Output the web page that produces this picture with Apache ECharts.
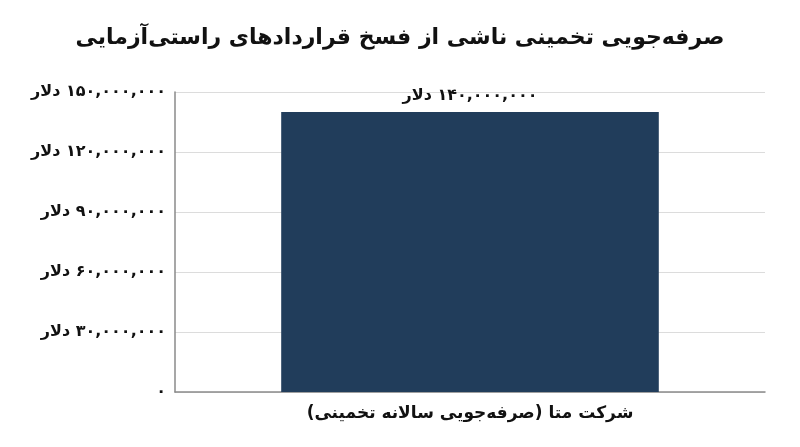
<!DOCTYPE html>
<html>
<head>
<meta charset="utf-8">
<script src="https://cdn.jsdelivr.net/npm/echarts@6/dist/echarts.min.js"></script>
<style>
html,body{margin:0;padding:0;background:#fff;}
#chart{width:800px;height:447px;}
</style>
</head>
<body>
<div id="chart"></div>
<script>
var titleText = 'صرفه‌جویی تخمینی ناشی از فسخ قراردادهای راستی‌آزمایی';
var categories = ['شرکت متا (صرفه‌جویی سالانه تخمینی)'];
var savings = [140000000];
var unit = 'دلار';
var yMax = 150000000;
var yStep = 30000000;

var FONT = '"DejaVu Sans", sans-serif';
var RLM = '\u200F';
function fa(n) {
  return n.toLocaleString('en-US').replace(/\d/g, function (d) { return '۰۱۲۳۴۵۶۷۸۹'[d]; });
}
// word on the left, number on the right (as in right-to-left reading)
function money(n) {
  return n === 0 ? '{n|' + fa(0) + '}' : '{u|' + unit + '}{s| }{n|' + fa(n) + '}';
}
var txt = { fontFamily: FONT, fontWeight: 'bold', color: '#111' };
function rich(size) {
  return {
    u: Object.assign({ fontSize: size }, txt),
    s: Object.assign({ fontSize: size }, txt),
    n: Object.assign({ fontSize: size }, txt)
  };
}

var chart = echarts.init(document.getElementById('chart'), null, { renderer: 'canvas' });
chart.setOption({
  backgroundColor: '#ffffff',
  animation: false,
  title: {
    text: titleText,
    left: 'center',
    top: 22,
    textStyle: { fontFamily: FONT, fontWeight: 'bold', fontSize: 22, color: '#111' }
  },
  grid: { left: 175, right: 35, top: 92, bottom: 55, containLabel: false },
  xAxis: {
    type: 'category',
    data: categories,
    axisLine: { show: true, lineStyle: { color: '#8a8a8a', width: 1.5 } },
    axisTick: { show: false },
    axisLabel: {
      margin: 13,
      fontFamily: FONT, fontWeight: 'bold', fontSize: 17, color: '#111',
      formatter: function (v) { return RLM + v + RLM; }
    }
  },
  yAxis: {
    type: 'value',
    min: 0,
    max: yMax,
    interval: yStep,
    axisLine: { show: true, lineStyle: { color: '#8a8a8a', width: 1.5 } },
    axisTick: { show: false },
    splitLine: { lineStyle: { color: '#dcdcdc', width: 1 } },
    axisLabel: {
      margin: 9,
      fontFamily: FONT, fontWeight: 'bold', fontSize: 16, color: '#111',
      formatter: function (v) { return money(v); },
      rich: rich(16)
    }
  },
  series: [{
    type: 'bar',
    data: savings,
    barWidth: '64%',
    itemStyle: { color: '#213d5b' },
    label: {
      show: true,
      position: 'top',
      distance: 8,
      fontFamily: FONT, fontWeight: 'bold', fontSize: 16, color: '#111',
      formatter: function (p) { return money(p.value); },
      rich: rich(16)
    }
  }]
});
</script>
</body>
</html>
